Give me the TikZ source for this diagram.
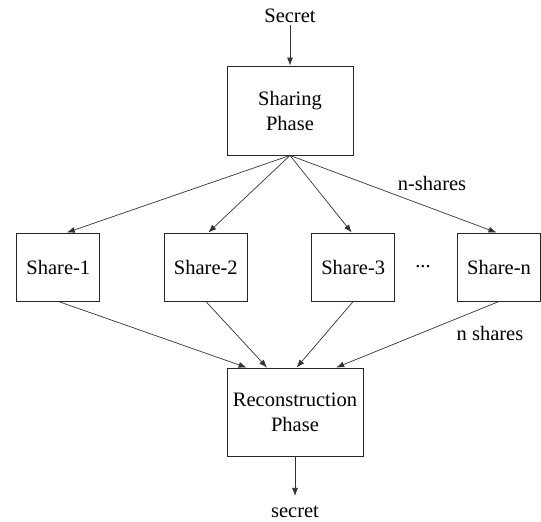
\documentclass[tikz,border=0pt]{standalone}
\usepackage{fontspec}
\setmainfont{Liberation Serif}
\newfontfamily\tnr{Liberation Serif}
\usetikzlibrary{arrows.meta,calc}
\begin{document}
\begin{tikzpicture}[x=1pt,y=-1pt,
  every node/.style={font=\tnr\fontsize{20.5}{25}\selectfont, inner sep=2pt},
  box/.style={draw=black!85, line width=0.9pt, rectangle, align=center, inner sep=0pt},
  sharebox/.style={box, minimum width=83pt, minimum height=68pt},
  arr/.style={draw=black!80, line width=0.7pt, -{Latex[length=8pt,width=6pt]}}]
\useasboundingbox (0,0) rectangle (541,522);
\node (secretin) at (290,16) {Secret};
\node[box, minimum width=126pt, minimum height=89pt] (sharing) at (290,110.5) {Sharing\\Phase};
\node[sharebox] (s1) at (58.3,267) {Share-1};
\node[sharebox] (s2) at (205.8,267) {Share-2};
\node[sharebox] (s3) at (353.2,267) {Share-3};
\node (dots) at (423,267) {...};
\node[sharebox] (sn) at (499,267) {Share-n};
\node[box, minimum width=136pt, minimum height=88pt] (recon) at (295,412) {Reconstruction\\Phase};
\node (secretout) at (295,512) {secret};
\node (lab1) at (432,183) {n-shares};
\node (lab2) at (490,333) {n shares};
\draw[arr] (secretin.south) -- (sharing.north);
\draw[arr] (sharing.south) -- ($(s1.north)+(8.5,0)$);
\draw[arr] (sharing.south) -- ($(s2.north)+(2.5,0)$);
\draw[arr] (sharing.south) -- ($(s3.north)+(-1.5,0)$);
\draw[arr] (sharing.south) -- ($(sn.north)+(-2.5,0)$);
\draw[arr] (s1.south) -- ($(recon.north)+(-48.4,0)$);
\draw[arr] (s2.south) -- ($(recon.north)+(-28,0)$);
\draw[arr] (s3.south) -- ($(recon.north)+(1.6,0)$);
\draw[arr] (sn.south) -- ($(recon.north)+(41.2,0)$);
\draw[arr, shorten >=8pt] (recon.south) -- (secretout.north);
\end{tikzpicture}
\end{document}
